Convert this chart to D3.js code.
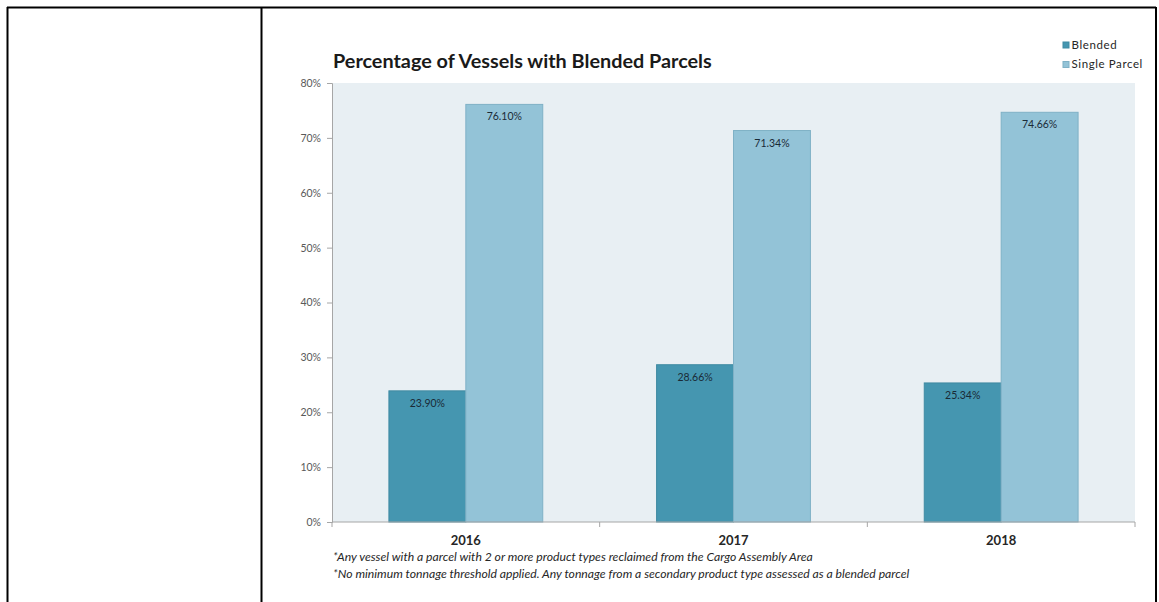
<!DOCTYPE html>
<html><head><meta charset="utf-8">
<script src="https://cdn.jsdelivr.net/npm/d3@7"></script>
<style>
html,body{margin:0;padding:0;background:#fff;}
svg{display:block;font-family:Lato,"Open Sans",sans-serif;}
</style></head>
<body>
<svg id="chart" width="1159" height="602"></svg>
<script>
const categories = ["2016", "2017", "2018"];
const seriesNames = ["Blended", "Single Parcel"];
const blended = [23.90, 28.66, 25.34];
const singleParcel = [76.10, 71.34, 74.66];
const yTicks = [0, 10, 20, 30, 40, 50, 60, 70, 80];
const title = "Percentage of Vessels with Blended Parcels";
const footnotes = [
  "*Any vessel with a parcel with 2 or more product types reclaimed from the Cargo Assembly Area",
  "*No minimum tonnage threshold applied. Any tonnage from a secondary product type assessed as a blended parcel"
];

const colors = {"Blended": "#4596b0", "Single Parcel": "#93c3d7"};
const strokes = {"Blended": "#3f8aa2", "Single Parcel": "#7fb1c6"};

const svg = d3.select("#chart");

// outer frame
svg.append("line").attr("x1",7).attr("x2",1156).attr("y1",7.5).attr("y2",7.5).attr("stroke","#000").attr("stroke-width",2);
svg.append("line").attr("x1",7.5).attr("x2",7.5).attr("y1",7).attr("y2",602).attr("stroke","#000").attr("stroke-width",2);
svg.append("line").attr("x1",261.5).attr("x2",261.5).attr("y1",7).attr("y2",602).attr("stroke","#000").attr("stroke-width",2);
svg.append("line").attr("x1",1156).attr("x2",1156).attr("y1",7).attr("y2",602).attr("stroke","#000").attr("stroke-width",2);

const plot = {left: 332, right: 1135, top: 83, bottom: 522};

const x0 = d3.scaleBand().domain(categories).range([plot.left, plot.right]).paddingInner(0).paddingOuter(0);
const x1 = d3.scaleBand().domain(seriesNames).range([0, x0.bandwidth()]).paddingInner(0).paddingOuter(0.74);
const y = d3.scaleLinear().domain([0, 80]).range([plot.bottom, plot.top]);

// plot background
svg.append("rect").attr("x", plot.left).attr("y", plot.top)
  .attr("width", plot.right - plot.left).attr("height", plot.bottom - plot.top)
  .attr("fill", "#e8eff3");

const rows = categories.map((c, i) => ({cat: c, vals: [
  {s: "Blended", v: blended[i]}, {s: "Single Parcel", v: singleParcel[i]}]}));

const g = svg.append("g");
const groups = g.selectAll("g.grp").data(rows).join("g")
  .attr("transform", d => `translate(${x0(d.cat)},0)`);
groups.selectAll("rect").data(d => d.vals).join("rect")
  .attr("x", d => x1(d.s)).attr("y", d => y(d.v))
  .attr("width", x1.bandwidth()).attr("height", d => y(0) - y(d.v))
  .attr("fill", d => colors[d.s]).attr("stroke", d => strokes[d.s]).attr("stroke-width", 1);
groups.selectAll("text").data(d => d.vals).join("text")
  .attr("x", d => x1(d.s) + x1.bandwidth()/2).attr("y", d => y(d.v) + 16)
  .attr("text-anchor", "middle").attr("font-size", 10.5).attr("fill", "#1a2a36")
  .text(d => d.v.toFixed(2) + "%");

// y axis
const yAxis = d3.axisLeft(y).tickValues(yTicks).tickFormat(d => d + "%").tickSize(5).tickPadding(6);
const ya = svg.append("g").attr("transform", `translate(${plot.left},0)`).call(yAxis);
ya.select(".domain").attr("stroke", "#a6a6a6");
ya.selectAll(".tick line").attr("stroke", "#a6a6a6");
ya.selectAll(".tick text").attr("font-size", 10.5).attr("fill", "#595959").attr("font-family", "Lato,sans-serif");

// x axis
const xa = svg.append("g").attr("transform", `translate(0,${plot.bottom})`);
xa.append("line").attr("x1", plot.left).attr("x2", plot.right).attr("stroke", "#a6a6a6");
xa.selectAll("line.tk").data([...categories.map(c => x0(c)), plot.right]).join("line")
  .attr("class","tk").attr("x1", d => d).attr("x2", d => d).attr("y1", 0).attr("y2", 5).attr("stroke", "#a6a6a6");
xa.selectAll("text").data(categories).join("text")
  .attr("x", d => x0(d) + x0.bandwidth()/2).attr("y", 23)
  .attr("text-anchor", "middle").attr("font-size", 13).attr("font-weight", "bold").attr("fill", "#262626")
  .text(d => d);

// title
function fit(sel, w) {
  const cur = sel.node().getComputedTextLength();
  const fs = parseFloat(sel.attr("font-size"));
  sel.attr("font-size", fs * w / cur);
}
const t = svg.append("text").attr("x", 333).attr("y", 68).attr("font-size", 18)
  .attr("font-weight", "bold").attr("fill", "#1a1a1a").text(title);
fit(t, 379);

// footnotes
const fnW = [480, 577];
footnotes.forEach((f, i) => {
  const ft = svg.append("text").attr("x", 333).attr("y", 561 + i * 17).attr("font-size", 10)
    .attr("font-style", "italic").attr("fill", "#262626").text(f);
  fit(ft, fnW[i]);
});

// legend
const lg = svg.append("g").attr("transform", "translate(1063,42)");
const li = lg.selectAll("g").data(seriesNames).join("g").attr("transform", (d,i) => `translate(0,${i*19.5})`);
li.append("rect").attr("x", 0).attr("y", 0).attr("width", 6).attr("height", 6)
  .attr("fill", d => colors[d]).attr("stroke", d => strokes[d]);
li.append("text").attr("x", 8.5).attr("y", 6.5).attr("font-size", 11.5).attr("letter-spacing", 0.6)
  .attr("fill", "#262626").text(d => d);
</script>
</body></html>
